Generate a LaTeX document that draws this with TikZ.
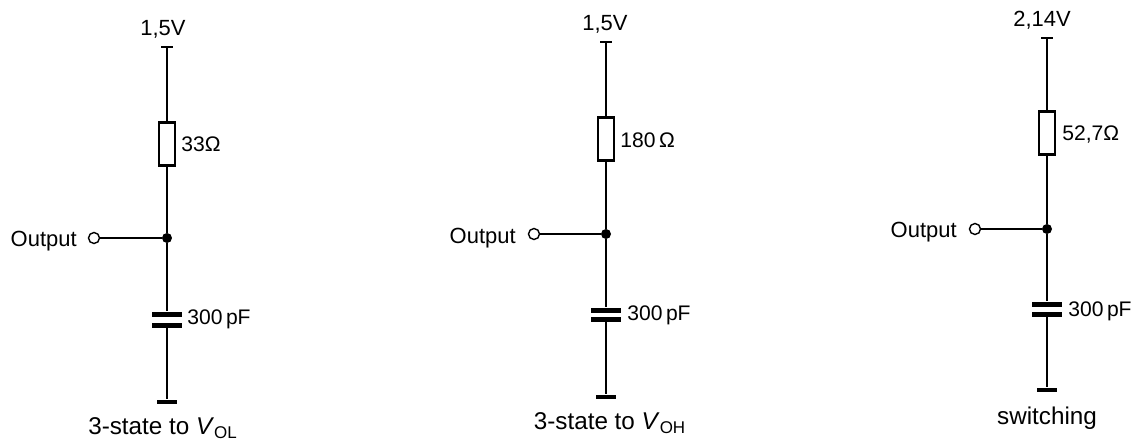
\documentclass[tikz,border=0pt]{standalone}
\usepackage{fontspec}
\setmainfont{Liberation Sans}
\usepackage{tikz}
\usetikzlibrary{positioning}

\tikzset{
wire/.style={line width=0.7pt},
resistor/.style={draw, line width=1.2pt, fill=white, minimum width=0.32cm, minimum height=0.86cm, inner sep=0pt},
plate/.style={fill=black, minimum width=0.6cm, minimum height=0.1cm, inner sep=0pt},
gndbar/.style={fill=black, minimum width=0.4cm, minimum height=0.09cm, inner sep=0pt},
topbar/.style={fill=black, minimum width=0.24cm, minimum height=0.7pt, inner sep=0pt},
dot/.style={circle, fill=black, minimum size=0.2cm, inner sep=0pt},
port/.style={circle, draw, line width=0.8pt, fill=white, minimum size=0.22cm, inner sep=0pt},
lbl/.style={font=\fontsize{12.5pt}{14pt}\selectfont, inner sep=0pt},
vallbl/.style={font=\fontsize{12pt}{14pt}\selectfont, inner sep=0pt, anchor=west},
caselbl/.style={font=\fontsize{13.8pt}{15pt}\selectfont, inner sep=0pt}
}

\begin{document}
\begin{tikzpicture}[x=0.02cm, y=-0.02cm]
\useasboundingbox (0, 0) rectangle (1134, 440);

% VOL load
\node[topbar] (top1) at (167, 47) {};
\node[resistor] (res1) at (167, 144) {};
\node[dot] (out1) at (167, 238) {};
\node[port] (port1) at (94, 238) {};
\node[plate] (capa1) at (167, 314) {};
\node[plate] (capb1) at (167, 325) {};
\node[gndbar] (gnd1) at (167, 402) {};
\draw[wire] (top1) -- (res1);
\draw[wire] (res1) -- (out1);
\draw[wire] (port1) -- (out1);
\draw[wire] (out1) -- (capa1);
\draw[wire] (capb1) -- (gnd1);
\node[lbl] (volt1) at (163, 29) {1,5V};
\node[vallbl] (rval1) at (181, 144) {33Ω};
\node[lbl, anchor=east] (name1) at (77, 241) {Output};
\node[vallbl] (cval1) at (187, 319) {300\,pF};
\node[caselbl] (case1) at (163, 428) {3-state to \textit{V}\textsubscript{OL}};

% VOH load
\node[topbar] (top2) at (606, 42) {};
\node[resistor] (res2) at (606, 139) {};
\node[dot] (out2) at (606, 234) {};
\node[port] (port2) at (534, 234) {};
\node[plate] (capa2) at (606, 310) {};
\node[plate] (capb2) at (606, 319) {};
\node[gndbar] (gnd2) at (606, 397) {};
\draw[wire] (top2) -- (res2);
\draw[wire] (res2) -- (out2);
\draw[wire] (port2) -- (out2);
\draw[wire] (out2) -- (capa2);
\draw[wire] (capb2) -- (gnd2);
\node[lbl] (volt2) at (605, 24) {1,5V};
\node[vallbl] (rval2) at (620, 140) {180\,Ω};
\node[lbl, anchor=east] (name2) at (516, 238) {Output};
\node[vallbl] (cval2) at (627, 315) {300\,pF};
\node[caselbl] (case2) at (610, 423) {3-state to \textit{V}\textsubscript{OH}};

% switching load
\node[topbar] (top3) at (1047, 38) {};
\node[resistor] (res3) at (1047, 133) {};
\node[dot] (out3) at (1047, 229) {};
\node[port] (port3) at (975, 229) {};
\node[plate] (capa3) at (1047, 304) {};
\node[plate] (capb3) at (1047, 314) {};
\node[gndbar] (gnd3) at (1047, 390) {};
\draw[wire] (top3) -- (res3);
\draw[wire] (res3) -- (out3);
\draw[wire] (port3) -- (out3);
\draw[wire] (out3) -- (capa3);
\draw[wire] (capb3) -- (gnd3);
\node[lbl] (volt3) at (1042, 20) {2,14V};
\node[vallbl] (rval3) at (1062, 134) {52,7Ω};
\node[lbl, anchor=east] (name3) at (957, 232) {Output};
\node[vallbl] (cval3) at (1068, 311) {300\,pF};
\node[caselbl] (case3) at (1047, 418) {switching};
\end{tikzpicture}
\end{document}
